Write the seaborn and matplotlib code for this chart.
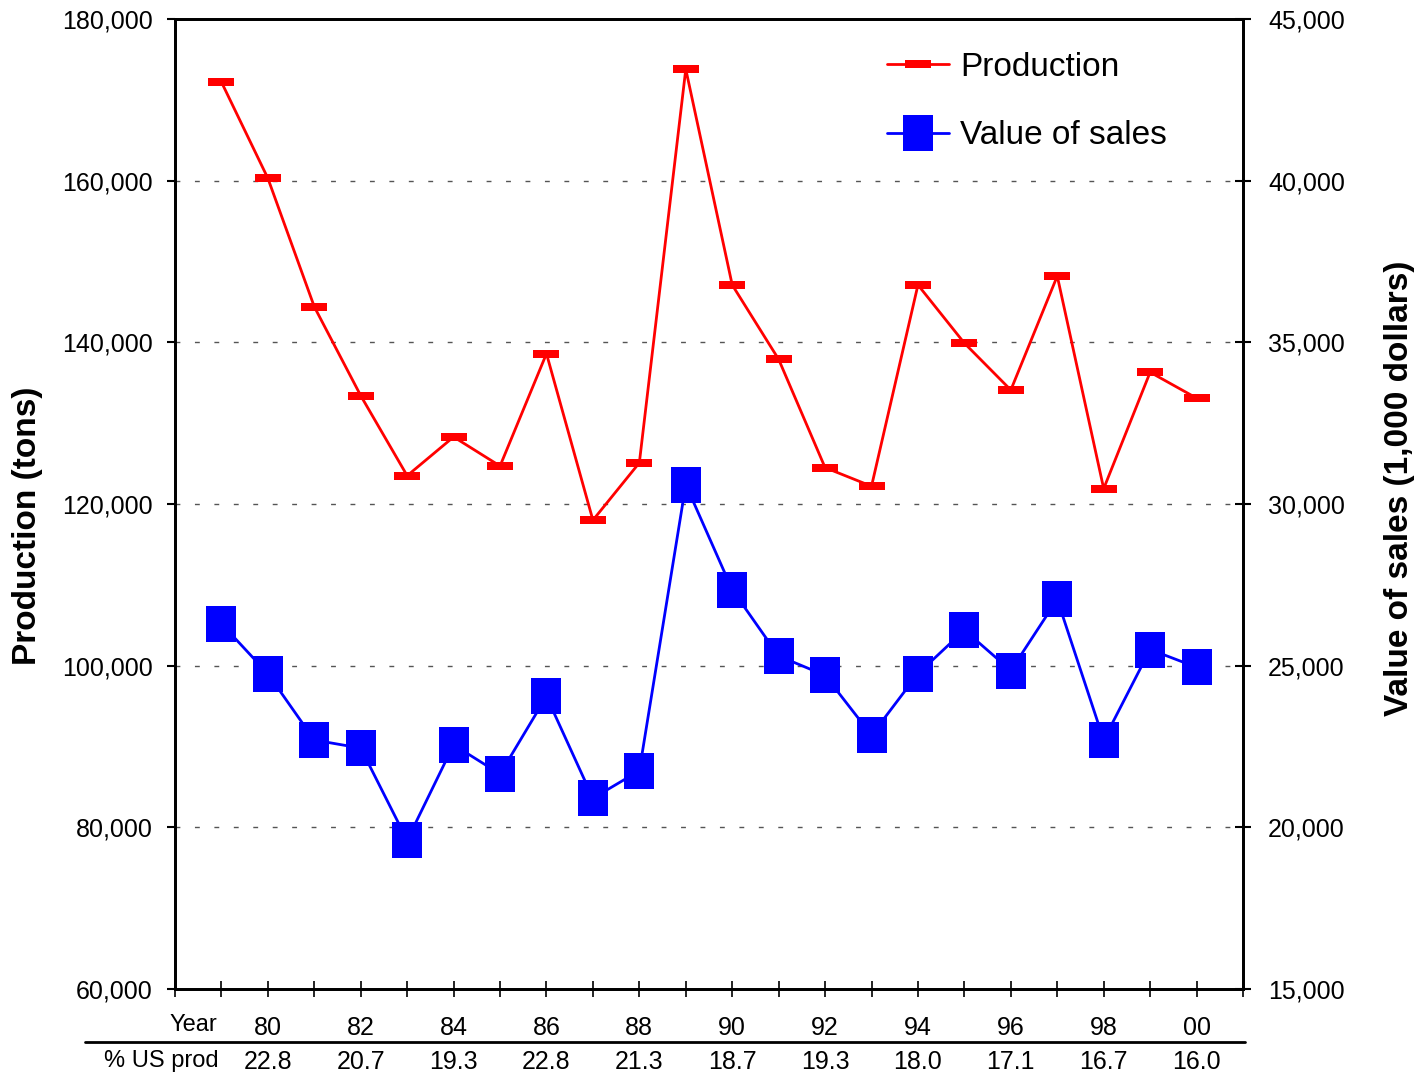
import matplotlib
matplotlib.use("Agg")
import matplotlib.pyplot as plt
import matplotlib.ticker as tkr
from matplotlib.lines import Line2D
import seaborn as sns

years = list(range(1979, 2001))
production = [172200, 160300, 144400, 133400, 123500, 128300, 124700, 138600,
              118000, 125100, 173800, 147100, 137900, 124500, 122200, 147100,
              139900, 134100, 148200, 121900, 136300, 133100]
sales = [26300, 24750, 22700, 22450, 19600, 22550, 21650, 24050,
         20900, 21750, 30600, 27350, 25300, 24700, 22850, 24750,
         26100, 24850, 27050, 22700, 25500, 24950]
label_years = list(range(1980, 2001, 2))
label_text = ["80", "82", "84", "86", "88", "90", "92", "94", "96", "98", "00"]
us_share = ["22.8", "20.7", "19.3", "22.8", "21.3", "18.7", "19.3", "18.0",
            "17.1", "16.7", "16.0"]

sns.set_theme(style="white")
plt.rcParams["font.family"] = ["Liberation Sans", "DejaVu Sans"]
plt.rcParams["text.color"] = "black"
plt.rcParams["axes.labelcolor"] = "black"

W, H = 1422, 1077
fig = plt.figure(figsize=(W / 100, H / 100), dpi=100)
ax = fig.add_axes([175 / W, 1 - 989 / H, (1243 - 175) / W, (989 - 19) / H])
ax2 = ax.twinx()

dash = [(-1, -0.27), (1, -0.27), (1, 0.27), (-1, 0.27), (-1, -0.27)]
square = [(-0.81, -1), (0.81, -1), (0.81, 1), (-0.81, 1), (-0.81, -1)]

sns.lineplot(x=years, y=production, ax=ax, color="#ff0000", lw=2,
             marker=dash, markersize=18.7, markeredgewidth=0,
             label="Production", legend=False)
sns.lineplot(x=years, y=sales, ax=ax2, color="#0000ff", lw=2,
             marker=square, markersize=26.6, markeredgewidth=0,
             label="Value of sales", legend=False)

ax.set_xlim(1978, 2001)
ax.set_ylim(60000, 180000)
ax2.set_ylim(15000, 45000)
ax.set_yticks(range(60000, 180001, 20000))
ax2.set_yticks(range(15000, 45001, 5000))
fmt = tkr.FuncFormatter(lambda v, p: "{:,.0f}".format(v))
ax.yaxis.set_major_formatter(fmt)
ax2.yaxis.set_major_formatter(fmt)
ax.set_xticks(range(1978, 2002))
ax.set_xticklabels([])

for y in range(80000, 160001, 20000):
    ax.axhline(y, color="#555555", lw=1, dashes=(3.5, 10.5), zorder=0)

for a in (ax, ax2):
    for s in a.spines.values():
        s.set_color("black")
        s.set_linewidth(2)
ax.tick_params(axis="y", direction="out", length=6, width=1.5, pad=10,
               labelsize=18, colors="black", left=True)
ax.tick_params(axis="x", direction="inout", length=12, width=1.2,
               bottom=True, colors="black")
ax2.tick_params(axis="y", direction="inout", length=12, width=1.5, pad=12,
                labelsize=18, colors="black", right=True)

ax.set_ylabel("Production (tons)", fontsize=24, fontweight="bold")
ax.yaxis.set_label_coords(-0.124, 0.478)
ax2.set_ylabel("Value of sales (1,000 dollars)", fontsize=24, fontweight="bold")
ax2.yaxis.set_label_coords(1.132, 0.516)

handles = [ax.get_lines()[0], ax2.get_lines()[0]]
ax.legend(handles, ["Production", "Value of sales"], loc="upper left",
          bbox_to_anchor=(887 / W, 1 - 52 / H), bbox_transform=fig.transFigure,
          frameon=False, fontsize=24, handlelength=1.85, handletextpad=0.35,
          labelspacing=1.12, borderpad=0, borderaxespad=0, labelcolor="black")

# table under the axis
fig.text(217 / W, 1 - 1025 / H, "Year", ha="right", va="center", fontsize=17)
fig.text(219 / W, 1 - 1061 / H, "% US prod", ha="right", va="center", fontsize=17)
for yr, lab, pct in zip(label_years, label_text, us_share):
    xf = (175 + (yr - 1978) / 23 * 1068) / W
    fig.text(xf, 1 - 1028 / H, lab, ha="center", va="center", fontsize=18)
    fig.text(xf, 1 - 1062 / H, pct, ha="center", va="center", fontsize=18)
fig.add_artist(Line2D([85 / W, 1245 / W], [1 - 1042 / H, 1 - 1042 / H],
                      transform=fig.transFigure, color="black", lw=2))

fig.savefig("out.png", dpi=100)
